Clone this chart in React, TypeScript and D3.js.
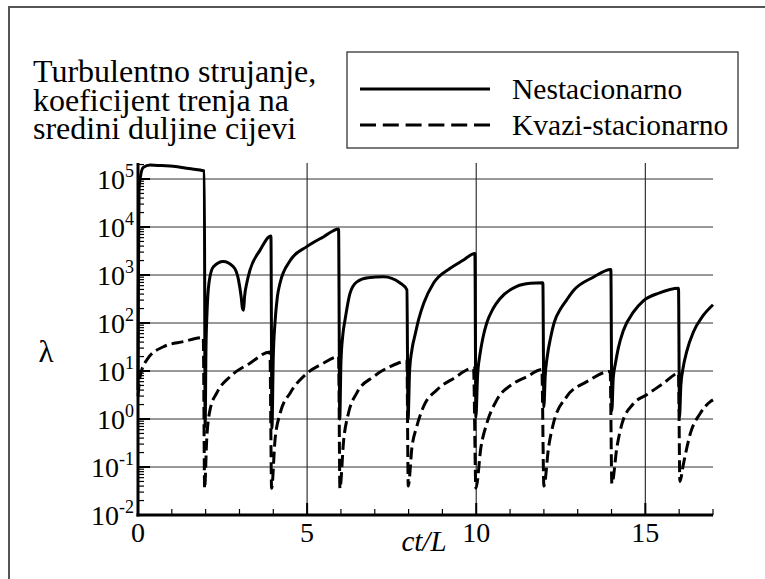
import React from "react";
import * as d3 from "d3";

const W = 765;
const H = 579;

// x axis (ct/L)
const xMajorTicks = [0, 5, 10, 15];
const xMinorTicks = [1, 2, 3, 4, 6, 7, 8, 9, 11, 12, 13, 14, 16, 17];
// y axis decades (log10)
const yDecades = [-2, -1, 0, 1, 2, 3, 4, 5];

// Nestacionarno (solid)
const nestT = [
  0, 0.01, 0.03, 0.08, 0.16, 0.36, 0.7, 1.04, 1.5, 1.96, 1.985,
  2.01, 2.04, 2.1, 2.23, 2.52, 2.82, 2.97, 3.05, 3.09, 3.12, 3.15, 3.22, 3.31, 3.61, 3.93, 3.96,
  4.0, 4.05, 4.12, 4.2, 4.5, 4.99, 5.48, 5.93, 5.965,
  6.0, 6.06, 6.12, 6.27, 6.47, 6.8, 7.26, 7.75, 7.95, 7.985,
  8.03, 8.1, 8.2, 8.3, 8.45, 8.74, 9.23, 9.6, 9.96, 9.99,
  10.04, 10.11, 10.2, 10.31, 10.5, 10.7, 11.2, 11.6, 11.97, 12.0,
  12.04, 12.1, 12.2, 12.3, 12.5, 12.67, 12.87, 13.46, 13.98, 14.01,
  14.05, 14.12, 14.2, 14.35, 14.65, 14.94, 15.4, 15.98, 16.01,
  16.05, 16.12, 16.22, 16.42, 16.7, 17.0,
];
const nestV = [
  4, 300, 6e4, 1.2e5, 1.75e5, 1.95e5, 1.9e5, 1.85e5, 1.65e5, 1.47e5, 0.7,
  30, 160, 700, 1480, 1900, 1480, 800, 350, 200, 185, 350, 700, 1260, 3300, 6500, 0.65,
  20, 100, 350, 680, 2000, 3900, 6200, 9100, 1.0,
  15, 60, 115, 420, 720, 880, 920, 680, 490, 1.0,
  10, 28, 60, 120, 260, 680, 1380, 2000, 2800, 1.1,
  8, 22, 50, 100, 200, 320, 580, 670, 690, 1.8,
  8, 20, 50, 100, 200, 300, 470, 900, 1300, 1.5,
  7, 15, 30, 70, 170, 290, 420, 530, 1.1,
  5, 12, 25, 65, 140, 240,
];

// Kvazi-stacionarno (dashed)
const kvaziT = [
  0, 0.06, 0.26, 0.75, 1.34, 1.93, 1.97,
  2.03, 2.13, 2.33, 2.72, 3.31, 3.9, 3.95,
  4.05, 4.2, 4.5, 4.99, 5.48, 5.93, 5.97,
  6.08, 6.22, 6.47, 6.96, 7.45, 7.95, 7.99,
  8.1, 8.24, 8.44, 8.83, 9.33, 9.92, 9.99,
  10.14, 10.31, 10.61, 11.1, 11.49, 11.94, 12.0,
  12.14, 12.28, 12.67, 13.27, 13.96, 14.01,
  14.16, 14.31, 14.65, 15.04, 15.53, 15.98, 16.02,
  16.13, 16.33, 16.62, 16.92, 17.0,
];
const kvaziV = [
  3, 7.6, 17, 32, 41, 50, 0.036,
  0.36, 1.55, 3.5, 7.6, 14.5, 25, 0.036,
  0.36, 1.3, 3.5, 8.9, 14.5, 20, 0.036,
  0.36, 1.3, 3.5, 7.6, 12.3, 16, 0.04,
  0.26, 0.69, 1.8, 4, 7, 11.5, 0.036,
  0.26, 0.8, 2.5, 5.5, 7.6, 10.7, 0.04,
  0.26, 0.8, 2.9, 6, 9.8, 0.045,
  0.26, 0.8, 2.1, 3.2, 5.5, 8.9, 0.05,
  0.12, 0.5, 1.3, 2.3, 2.5,
];

const titleLines = ["Turbulentno strujanje,", "koeficijent trenja na", "sredini duljine cijevi"];
const legendLabels = ["Nestacionarno", "Kvazi-stacionarno"];

const FF = "Liberation Serif";

export default function App() {
  const x = d3.scaleLinear().domain([0, 17]).range([138, 713]);
  const y = d3.scaleLog().domain([1e-2, Math.pow(10, 5 + 16 / 48)]).range([515, 163]);
  const [x0, x1] = x.range();
  const [yb, yt] = y.range();

  const line = d3
    .line<[number, number]>()
    .x((d) => x(d[0]))
    .y((d) => y(d[1]))
    .curve(d3.curveMonotoneX);

  const nest: [number, number][] = nestT.map((t, i) => [t, nestV[i]]);
  const kvazi: [number, number][] = kvaziT.map((t, i) => [t, kvaziV[i]]);

  const minorY: number[] = [];
  yDecades.forEach((k) => {
    for (let m = 2; m <= 9; m++) {
      const v = m * Math.pow(10, k);
      if (v <= y.domain()[1]) minorY.push(v);
    }
  });

  return (
    <svg width={W} height={H} style={{ position: "absolute", left: 0, top: 0, background: "#fff" }}>
      <rect width={W} height={H} fill="#fff" />
      {/* outer frame */}
      <path d={`M9,${H} L9,7 L${W},7`} fill="none" stroke="#555" strokeWidth={2} />

      {/* title */}
      {titleLines.map((t, i) => (
        <text key={t} x={33} y={82 + i * 28.5} fontSize={32} fill="#000" fontFamily={FF}>
          {t}
        </text>
      ))}

      {/* legend */}
      <rect x={347} y={52} width={391} height={96} fill="#fff" stroke="#333" strokeWidth={1.3} />
      <line x1={360} x2={490} y1={89} y2={89} stroke="#000" strokeWidth={3} />
      <line x1={360} x2={490} y1={125} y2={125} stroke="#000" strokeWidth={3} strokeDasharray="16,6.8" />
      {legendLabels.map((l, i) => (
        <text key={l} x={512} y={99 + i * 36} fontSize={29.5} fill="#000" fontFamily={FF}>
          {l}
        </text>
      ))}

      {/* grid */}
      {yDecades.map((k) => (
        <line key={"gy" + k} x1={x0} x2={x1} y1={y(Math.pow(10, k))} y2={y(Math.pow(10, k))} stroke="#333" strokeWidth={1.2} />
      ))}
      {xMajorTicks.filter((v) => v > 0).map((v) => (
        <line key={"gx" + v} x1={x(v)} x2={x(v)} y1={yt} y2={yb} stroke="#333" strokeWidth={1.2} />
      ))}

      {/* y ticks */}
      {yDecades.map((k) => (
        <line key={"ty" + k} x1={x0} x2={x0 + 12} y1={y(Math.pow(10, k))} y2={y(Math.pow(10, k))} stroke="#000" strokeWidth={2} />
      ))}
      {minorY.map((v, i) => (
        <line key={"my" + i} x1={x0} x2={x0 + 6} y1={y(v)} y2={y(v)} stroke="#000" strokeWidth={1.2} />
      ))}
      {/* x ticks */}
      {xMajorTicks.map((v) => (
        <line key={"tx" + v} x1={x(v)} x2={x(v)} y1={yb} y2={yb - 12} stroke="#000" strokeWidth={2} />
      ))}
      {xMinorTicks.map((v) => (
        <line key={"mx" + v} x1={x(v)} x2={x(v)} y1={yb} y2={yb - 6} stroke="#000" strokeWidth={1.2} />
      ))}

      {/* curves */}
      <path d={line(kvazi) || ""} fill="none" stroke="#000" strokeWidth={3} strokeDasharray="12,5" />
      <path d={line(nest) || ""} fill="none" stroke="#000" strokeWidth={3} strokeLinejoin="round" />

      {/* axes */}
      <line x1={x0} x2={x0} y1={yt} y2={yb + 1.5} stroke="#000" strokeWidth={3} />
      <line x1={x0 - 1.5} x2={x1} y1={yb} y2={yb} stroke="#000" strokeWidth={3} />

      {/* y tick labels */}
      {yDecades.map((k) => (
        <text key={"ly" + k} x={134} y={y(Math.pow(10, k)) + 10} fontSize={28} textAnchor="end" fill="#000" fontFamily={FF}>
          10
          <tspan fontSize={18} dy={-12}>
            {k < 0 ? "-" + Math.abs(k) : String(k)}
          </tspan>
        </text>
      ))}
      {/* x tick labels */}
      {xMajorTicks.map((v) => (
        <text key={"lx" + v} x={x(v)} y={yb + 27} fontSize={28} textAnchor="middle" fill="#000" fontFamily={FF}>
          {v}
        </text>
      ))}

      {/* axis titles */}
      <text x={424} y={551} fontSize={29} fontStyle="italic" textAnchor="middle" fill="#000" fontFamily={FF}>
        ct/L
      </text>
      <text x={46} y={362} fontSize={31} textAnchor="middle" fill="#000" fontFamily={FF}>
        λ
      </text>
    </svg>
  );
}
